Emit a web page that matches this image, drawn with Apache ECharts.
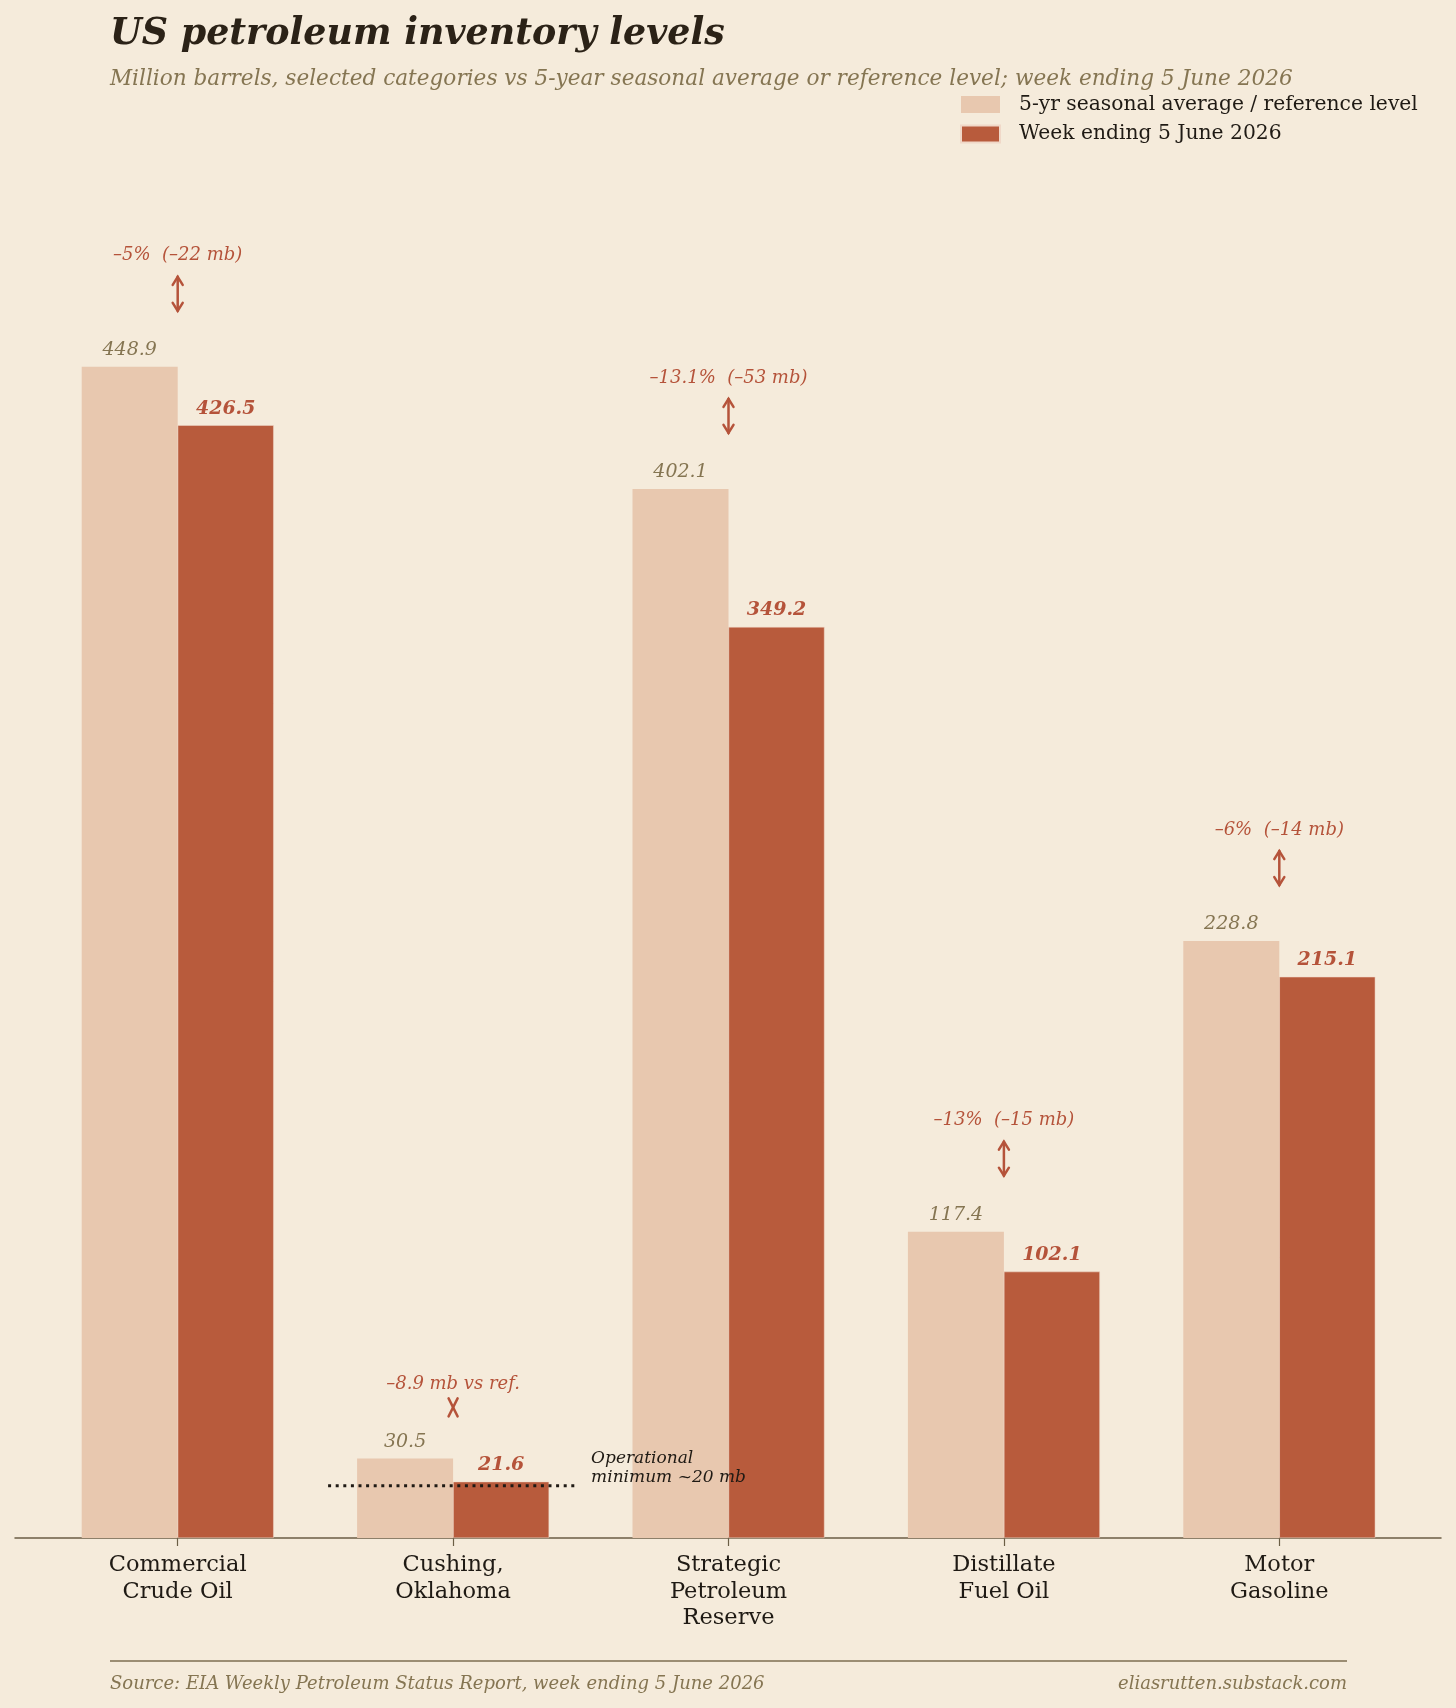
<!DOCTYPE html>
<html>
<head>
    <meta charset="UTF-8">
    <title>US petroleum inventory levels</title>
    <script src="https://cdn.jsdelivr.net/npm/echarts@6/dist/echarts.min.js"></script>
    <style>
        body { margin: 0; padding: 0; background: #f5ebdb; }
        #echart { width: 1456px; height: 1708px; }
    </style>
</head>
<body>
<div id="echart"></div>
<script>
    // data (million barrels)
    const categories = ['Commercial\nCrude Oil', 'Cushing,\nOklahoma', 'Strategic\nPetroleum\nReserve', 'Distillate\nFuel Oil', 'Motor\nGasoline'];
    const refLevel = [448.9, 30.5, 402.1, 117.4, 228.8];
    const weekLevel = [426.5, 21.6, 349.2, 102.1, 215.1];
    const gapLabels = ['–5%  (–22 mb)', '–8.9 mb vs ref.', '–13.1%  (–53 mb)', '–13%  (–15 mb)', '–6%  (–14 mb)'];
    const cushingIndex = 1;
    const cushingOpMin = 20;

    const BG = '#f5ebdb';
    const LIGHT = '#e8c8af';
    const DARK = '#b85b3c';
    const ACCENT = '#b5533a';
    const MUTED = '#857552';
    const INK = '#2b2217';
    const FONT = '"DejaVu Serif", serif';

    function arrowPath(x, y1, y2, compact) {
        if (compact) {
            return [[[x - 4.5, y1], [x + 4.5, y2]], [[x + 4.5, y1], [x - 4.5, y2]]];
        }
        return [
            [[x, y1], [x, y2]],
            [[x - 5, y1 + 8], [x, y1], [x + 5, y1 + 8]],
            [[x - 5, y2 - 8], [x, y2], [x + 5, y2 - 8]]
        ];
    }

    function renderGap(params, api) {
        const i = api.value(0);
        const ref = api.value(1);
        const cur = api.value(2);
        const p = api.coord([i, ref]);
        const compact = (ref - cur) < 10;
        const textY = p[1] - (compact ? 74 : 111);
        const a1 = p[1] - (compact ? 60 : 90);
        const a2 = p[1] - (compact ? 42 : 56);
        const children = [{
            type: 'text',
            style: {
                text: gapLabels[params.dataIndex],
                x: p[0], y: textY,
                align: 'center', verticalAlign: 'middle',
                font: 'italic 18px ' + FONT,
                fill: ACCENT
            }
        }];
        arrowPath(p[0], a1, a2, compact).forEach(pts => {
            children.push({
                type: 'polyline',
                shape: { points: pts },
                style: { stroke: ACCENT, lineWidth: 2.5, fill: null, lineCap: 'round' }
            });
        });
        return { type: 'group', children: children };
    }

    function renderOpMin(params, api) {
        const p = api.coord([api.value(0), api.value(1)]);
        return {
            type: 'group',
            children: [{
                type: 'line',
                shape: { x1: p[0] - 125, y1: p[1], x2: p[0] + 125, y2: p[1] },
                style: { stroke: '#1f1a14', lineWidth: 3, lineDash: [3, 4.6] }
            }, {
                type: 'text',
                style: {
                    text: 'Operational\nminimum ~20 mb',
                    x: p[0] + 138, y: p[1] - 18,
                    align: 'left', verticalAlign: 'middle',
                    font: 'italic 17px ' + FONT,
                    lineHeight: 19,
                    fill: '#1f1a14'
                }
            }]
        };
    }

    const option = {
        backgroundColor: BG,
        animation: false,
        textStyle: { fontFamily: FONT },
        title: [
            {
                text: 'US petroleum inventory levels',
                left: 105, top: 12,
                textStyle: { fontFamily: FONT, fontSize: 36.4, fontWeight: 'bold', fontStyle: 'italic', color: INK }
            },
            {
                text: 'Million barrels, selected categories vs 5-year seasonal average or reference level; week ending 5 June 2026',
                left: 105, top: 63.5,
                textStyle: { fontFamily: FONT, fontSize: 21.6, fontWeight: 'normal', fontStyle: 'italic', color: MUTED }
            },
            {
                text: 'Source: EIA Weekly Petroleum Status Report, week ending 5 June 2026',
                left: 105, top: 1670,
                textStyle: { fontFamily: FONT, fontSize: 18, fontWeight: 'normal', fontStyle: 'italic', color: MUTED }
            },
            {
                text: 'eliasrutten.substack.com',
                right: 104, top: 1670,
                textStyle: { fontFamily: FONT, fontSize: 18, fontWeight: 'normal', fontStyle: 'italic', color: MUTED }
            }
        ],
        legend: {
            orient: 'vertical',
            left: 955, top: 89.5,
            itemWidth: 39, itemHeight: 17, itemGap: 9.5,
            icon: 'rect',
            textStyle: { fontFamily: FONT, fontSize: 20.3, color: '#1f1a14', padding: [0, 0, 0, 14] },
            data: ['5-yr seasonal average / reference level', 'Week ending 5 June 2026']
        },
        graphic: [{
            type: 'line',
            shape: { x1: 110, y1: 1661, x2: 1347, y2: 1661 },
            style: { stroke: '#7d6e50', lineWidth: 1.5 }
        }],
        grid: [
            { left: 40, right: 39, top: 233.5, bottom: 170 },
            { left: 15, right: 15, top: 233.5, bottom: 170 }
        ],
        xAxis: [
            {
                type: 'category',
                gridIndex: 0,
                data: categories,
                axisLine: { show: false },
                axisTick: { show: true, alignWithLabel: true, length: 8, lineStyle: { color: '#6b5e45', width: 1.2 } },
                axisLabel: { fontFamily: FONT, fontSize: 22.5, color: '#1f1a14', lineHeight: 26.5, margin: 14, interval: 0 }
            },
            {
                type: 'value',
                gridIndex: 1,
                min: 0, max: 1,
                axisLine: { show: true, onZero: false, lineStyle: { color: '#6b5e45', width: 1.5 } },
                axisTick: { show: false },
                axisLabel: { show: false },
                splitLine: { show: false }
            }
        ],
        yAxis: [
            { type: 'value', gridIndex: 0, min: 0, max: 500, show: false, splitLine: { show: false } },
            { type: 'value', gridIndex: 1, min: 0, max: 1, show: false, splitLine: { show: false } }
        ],
        series: [
            {
                name: '5-yr seasonal average / reference level',
                type: 'bar',
                data: refLevel,
                barWidth: 96,
                barGap: '0%',
                itemStyle: { color: LIGHT },
                label: {
                    show: true, position: 'top', distance: 7,
                    fontFamily: FONT, fontSize: 19, fontStyle: 'italic', color: MUTED,
                    formatter: p => p.value.toFixed(1)
                }
            },
            {
                name: 'Week ending 5 June 2026',
                type: 'bar',
                data: weekLevel,
                barWidth: 96,
                barGap: '0%',
                itemStyle: { color: DARK, borderColor: '#f0d8c8', borderWidth: 0.5 },
                label: {
                    show: true, position: 'top', distance: 7,
                    fontFamily: FONT, fontSize: 19, fontStyle: 'italic', fontWeight: 'bold', color: ACCENT,
                    formatter: p => p.value.toFixed(1)
                }
            },
            {
                type: 'custom',
                renderItem: renderGap,
                clip: false,
                z: 5,
                data: refLevel.map((v, i) => [i, v, weekLevel[i]]),
                encode: { x: 0, y: 1 },
                silent: true
            },
            {
                type: 'custom',
                renderItem: renderOpMin,
                clip: false,
                z: 6,
                data: [[cushingIndex, cushingOpMin]],
                encode: { x: 0, y: 1 },
                silent: true
            }
        ]
    };

    window.ec = echarts.init(document.getElementById('echart'));
    ec.setOption(option);
</script>
</body>
</html>
